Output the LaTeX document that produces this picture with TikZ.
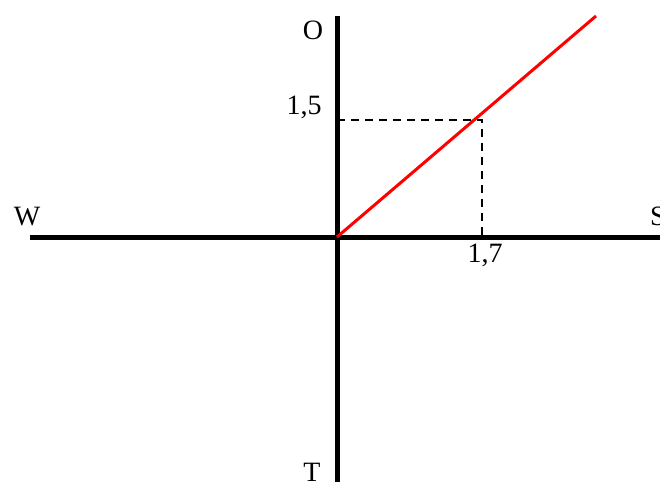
\documentclass[tikz,border=0pt]{standalone}
\usepackage{fontspec}
\setmainfont{Liberation Serif}
\usetikzlibrary{positioning}
\tikzset{
  axis/.style={line width=5pt},
  guide/.style={line width=2pt,dash pattern=on 8pt off 6pt},
  graph/.style={red,line width=3pt},
  lbl/.style={inner sep=0pt,anchor=base,font=\fontsize{28}{32}\selectfont}
}

\begin{document}
\begin{tikzpicture}[x=1pt,y=-1pt]
\useasboundingbox (0,0) rectangle (660,481);
\coordinate (o) at (337,237);
\coordinate (west) at (30,237);
\coordinate (east) at (662,237);
\coordinate (north) at (337,16);
\coordinate (south) at (337,483);
\coordinate (p) at (482,120);
\coordinate (px) at (482,237);
\coordinate (py) at (337,120);
\coordinate (end) at (596,16);
\draw[axis] (west) -- (east);
\draw[axis] (north) -- (south);
\draw[guide] (py) -- (p) -- (px);
\draw[graph] (o) -- (end);
\node[lbl] (lo) at (313,40) {O};
\node[lbl] (lt) at (312,481) {T};
\node[lbl] (lw) at (27,225) {W};
\node[lbl] (ls) at (658,225) {S};
\node[lbl] (ly) at (304,115) {1,5};
\node[lbl] (lx) at (485,262) {1,7};
\end{tikzpicture}
\end{document}
